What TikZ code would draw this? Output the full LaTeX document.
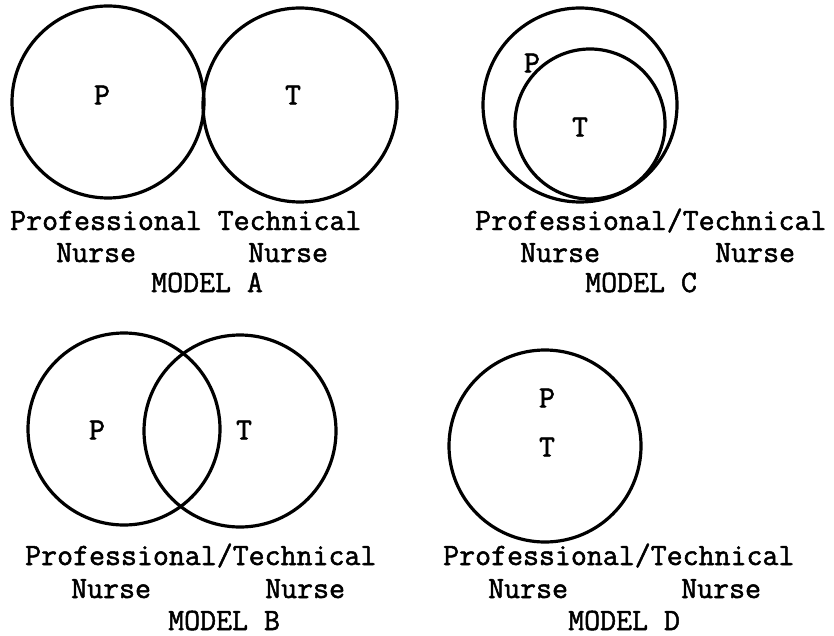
\documentclass[tikz,border=0pt]{standalone}
\usepackage{fontspec}
\usepackage{tikz}
\newfontfamily\typed{Latin Modern Mono}[FakeBold=1.6]

\begin{document}
\begin{tikzpicture}[
  x=1pt, y=-1pt,
  font=\typed\fontsize{31}{33}\selectfont,
  ring/.style={draw=black, line width=3.2pt},
  letter/.style={inner sep=0pt},
  txt/.style={inner sep=0pt, anchor=base west}
]
  \useasboundingbox (0,0) rectangle (834,636);

  % model A
  \draw[ring] (108,102) circle (96);
  \draw[ring] (300,105) circle (97);
  \node[letter] (aP) at (102,95) {P};
  \node[letter] (aT) at (293,95) {T};
  \node[txt] (aLine) at (10,230) {Professional Technical};
  \node[txt] (aNp)   at (56,262)  {Nurse};
  \node[txt] (aNt)   at (248,262) {Nurse};
  \node[txt] (aName) at (151,292) {MODEL A};

  % model C
  \draw[ring] (580,105) circle (97);
  \draw[ring] (590,124) circle (75);
  \node[letter] (cP) at (532,63)  {P};
  \node[letter] (cT) at (580,127) {T};
  \node[txt] (cLine) at (475,230) {Professional/Technical};
  \node[txt] (cNp)   at (520,262) {Nurse};
  \node[txt] (cNt)   at (715,262) {Nurse};
  \node[txt] (cName) at (585,292) {MODEL C};

  % model B
  \draw[ring] (124,429) circle (96);
  \draw[ring] (240,431) circle (96);
  \node[letter] (bP) at (97,430)  {P};
  \node[letter] (bT) at (244,430) {T};
  \node[txt] (bLine) at (25,565)  {Professional/Technical};
  \node[txt] (bNp)   at (71,598)  {Nurse};
  \node[txt] (bNt)   at (265,598) {Nurse};
  \node[txt] (bName) at (168,630) {MODEL B};

  % model D
  \draw[ring] (545,446) circle (96);
  \node[letter] (dP) at (547,398) {P};
  \node[letter] (dT) at (547,447) {T};
  \node[txt] (dLine) at (443,565) {Professional/Technical};
  \node[txt] (dNp)   at (488,598) {Nurse};
  \node[txt] (dNt)   at (681,598) {Nurse};
  \node[txt] (dName) at (568,630) {MODEL D};
\end{tikzpicture}
\end{document}
